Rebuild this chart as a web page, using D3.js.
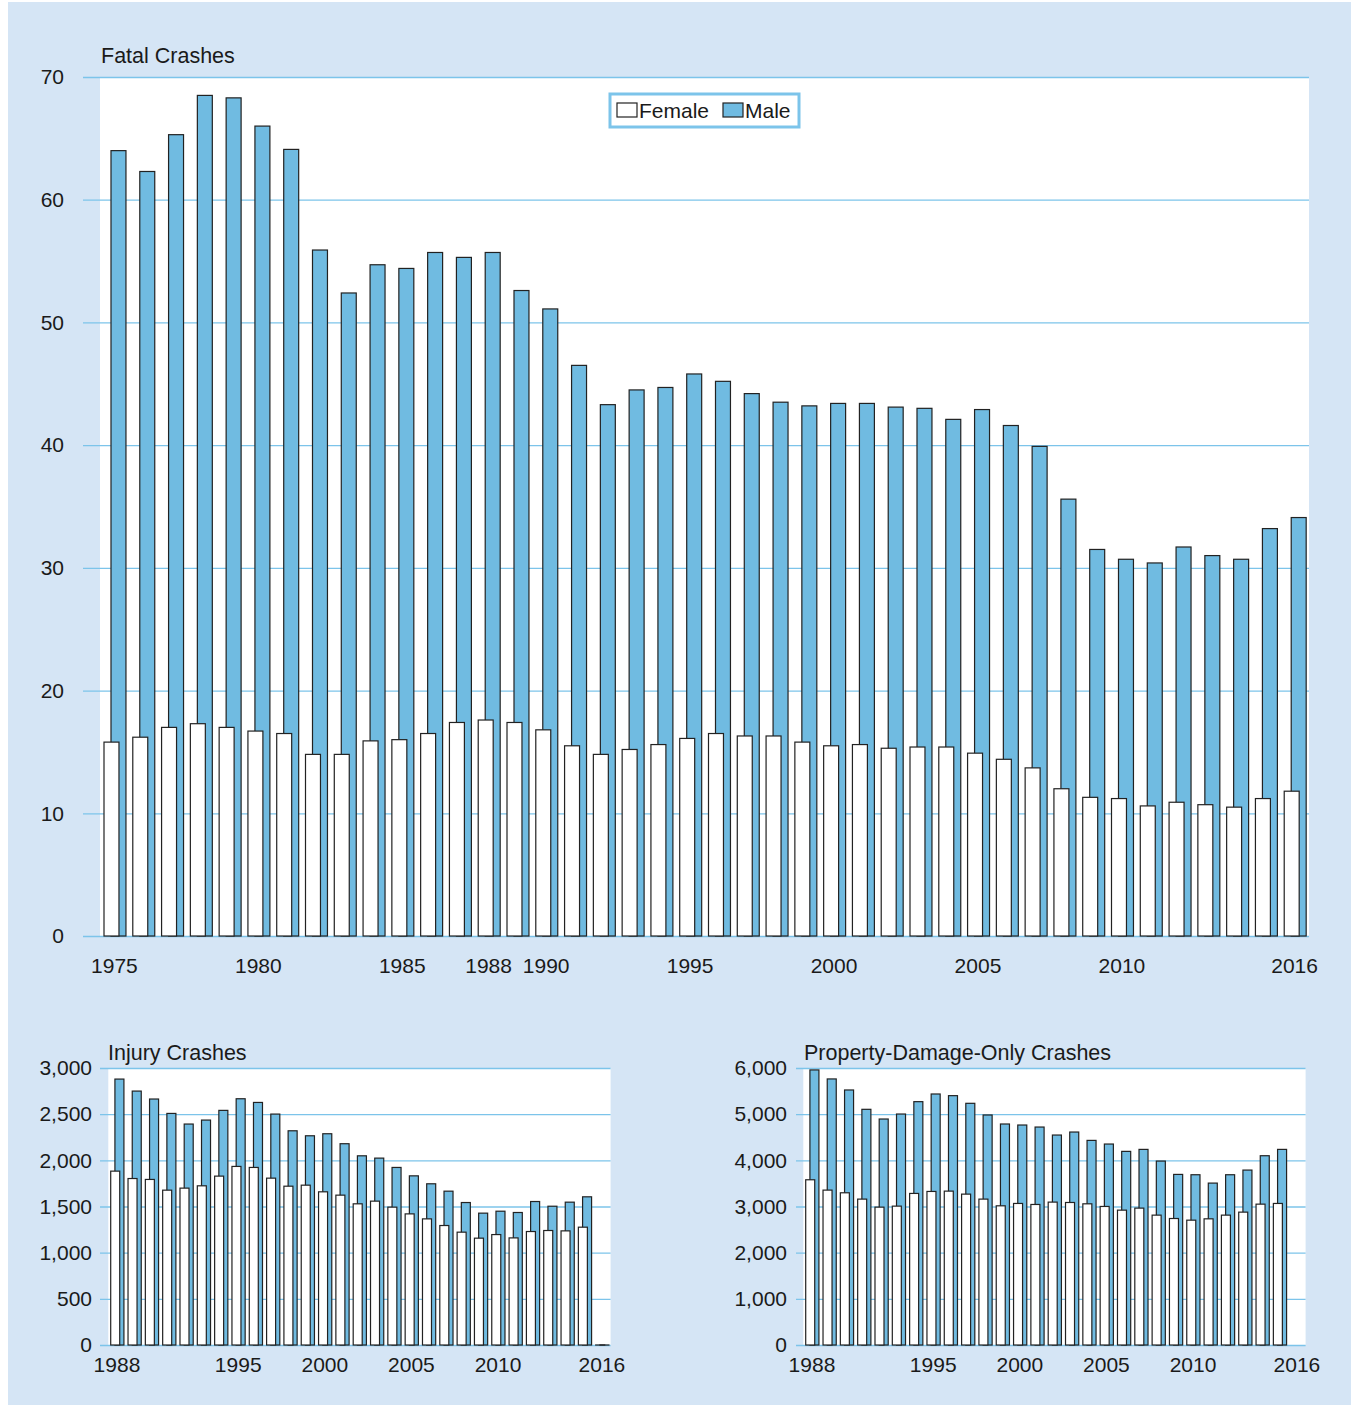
<!DOCTYPE html>
<html>
<head>
<meta charset="utf-8">
<script src="https://cdn.jsdelivr.net/npm/d3@7"></script>
<style>
  body { margin: 0; background: #fff; }
  text { font-family: "Liberation Sans", Arial, sans-serif; fill: #1a1a1a; }
</style>
</head>
<body>
<div id="container"></div>
<script>
// fatal crashes, 1975-2016
let fatalYears = d3.range(1975, 2017)
let fatalFemale = [15.8, 16.2, 17.0, 17.3, 17.0, 16.7, 16.5, 14.8, 14.8, 15.9,
  16.0, 16.5, 17.4, 17.6, 17.4, 16.8, 15.5, 14.8, 15.2, 15.6,
  16.1, 16.5, 16.3, 16.3, 15.8, 15.5, 15.6, 15.3, 15.4, 15.4,
  14.9, 14.4, 13.7, 12.0, 11.3, 11.2, 10.6, 10.9, 10.7, 10.5,
  11.2, 11.8]
let fatalMale = [64.0, 62.3, 65.3, 68.5, 68.3, 66.0, 64.1, 55.9, 52.4, 54.7,
  54.4, 55.7, 55.3, 55.7, 52.6, 51.1, 46.5, 43.3, 44.5, 44.7,
  45.8, 45.2, 44.2, 43.5, 43.2, 43.4, 43.4, 43.1, 43.0, 42.1,
  42.9, 41.6, 39.9, 35.6, 31.5, 30.7, 30.4, 31.7, 31.0, 30.7,
  33.2, 34.1]
let fatalYearLabels = [1975, 1980, 1985, 1988, 1990, 1995, 2000, 2005, 2010, 2016]
let fatalTicks = [0, 10, 20, 30, 40, 50, 60, 70]

// injury and property-damage-only crashes, 1988-2016
let smallYears = d3.range(1988, 2017)
let injuryFemale = [1883, 1803, 1793, 1677, 1699, 1724, 1829, 1934, 1923, 1807,
  1720, 1731, 1659, 1623, 1529, 1558, 1493, 1420, 1366, 1294,
  1222, 1157, 1196, 1160, 1229, 1240, 1236, 1276, 0]
let injuryMale = [2880, 2750, 2664, 2508, 2393, 2436, 2541, 2667, 2627, 2501,
  2320, 2266, 2288, 2180, 2049, 2024, 1923, 1832, 1746, 1666,
  1543, 1428, 1449, 1435, 1554, 1503, 1547, 1605, 0]
let pdoFemale = [3579, 3355, 3297, 3160, 2986, 3008, 3283, 3326, 3333, 3268,
  3160, 3015, 3066, 3044, 3095, 3087, 3058, 3001, 2921, 2965,
  2813, 2740, 2704, 2733, 2813, 2878, 3051, 3066, null]
let pdoMale = [5958, 5763, 5524, 5105, 4895, 5003, 5271, 5437, 5401, 5235,
  4982, 4787, 4765, 4721, 4548, 4613, 4432, 4353, 4194, 4237,
  3984, 3695, 3688, 3507, 3688, 3789, 4100, 4237, null]
let smallYearLabels = [1988, 1995, 2000, 2005, 2010, 2016]
let injuryTicks = [0, 500, 1000, 1500, 2000, 2500, 3000]
let pdoTicks = [0, 1000, 2000, 3000, 4000, 5000, 6000]

let width = 1351,
  height = 1405,
  blue = '#70bbe1',
  grid = '#7cc4ea',
  fontSize = 21

let svg = d3.select('#container')
  .append('svg')
  .attr('width', width)
  .attr('height', height)

svg.append('rect')
  .attr('x', 8).attr('y', 2)
  .attr('width', width - 8).attr('height', height - 2)
  .attr('fill', '#d5e5f5')

function drawPanel(p) {
  let g = svg.append('g')

  let scale_x = d3.scaleBand()
    .domain(p.years)
    .range([p.left, p.right])

  let scale_y = d3.scaleLinear()
    .domain([0, d3.max(p.ticks)])
    .range([p.bottom, p.top])

  g.append('rect')
    .attr('x', p.left).attr('y', p.top)
    .attr('width', p.right - p.left).attr('height', p.bottom - p.top)
    .attr('fill', '#fff')

  // gridlines + y labels
  let y_axis = d3.axisLeft(scale_y)
    .tickValues(p.ticks)
    .tickFormat(p.format)
    .tickSizeInner(-(p.right - p.gridStart))
    .tickSizeOuter(0)
    .tickPadding(p.gridStart - p.labelRight)

  let ya = g.append('g')
    .attr('transform', 'translate(' + p.gridStart + ',0)')
    .call(y_axis)
  ya.select('.domain').remove()
  ya.selectAll('line').attr('stroke', grid).attr('stroke-width', 1.3)
  ya.selectAll('text')
    .attr('font-size', fontSize)
    .attr('font-family', null)
    .attr('fill', null)

  let bw = scale_x.bandwidth()
  let barW = bw * 0.52

  let rows = p.years.map(function (y, i) {
    return { year: y, f: p.female[i], m: p.male[i] }
  }).filter(function (d) { return d.m != null })

  // zero values still get a flat outline, as in the original
  function barH(v) { return Math.max(scale_y(0) - scale_y(v), 0.01) }

  let pairs = g.selectAll('g.pair')
    .data(rows).enter().append('g')
    .attr('class', 'pair')

  pairs.append('rect')
    .attr('x', function (d) { return scale_x(d.year) + bw * 0.382 })
    .attr('y', function (d) { return scale_y(d.m) })
    .attr('width', barW)
    .attr('height', function (d) { return barH(d.m) })
    .attr('fill', blue)
    .attr('stroke', '#222')
    .attr('stroke-width', 1.2)

  pairs.append('rect')
    .attr('x', function (d) { return scale_x(d.year) + bw * 0.139 })
    .attr('y', function (d) { return scale_y(d.f) })
    .attr('width', barW)
    .attr('height', function (d) { return barH(d.f) })
    .attr('fill', '#fff')
    .attr('stroke', '#222')
    .attr('stroke-width', 1.2)

  // year labels
  let x_axis = d3.axisBottom(scale_x)
    .tickValues(p.yearLabels)
    .tickSize(0)
    .tickPadding(p.xPad)

  let xa = g.append('g')
    .attr('transform', 'translate(0,' + p.bottom + ')')
    .call(x_axis)
  xa.select('.domain').remove()
  xa.selectAll('text')
    .attr('font-size', fontSize)
    .attr('font-family', null)
    .attr('fill', null)

  g.append('text')
    .attr('x', p.titleX)
    .attr('y', p.top - p.titleDy)
    .attr('font-size', 21.5)
    .text(p.title)
}

drawPanel({
  years: fatalYears, female: fatalFemale, male: fatalMale,
  yearLabels: fatalYearLabels, ticks: fatalTicks, format: d3.format('d'),
  left: 100, right: 1309, top: 77, bottom: 936,
  gridStart: 83, labelRight: 64, xPad: 22,
  title: 'Fatal Crashes', titleX: 101, titleDy: 14
})

drawPanel({
  years: smallYears, female: injuryFemale, male: injuryMale,
  yearLabels: smallYearLabels, ticks: injuryTicks, format: d3.format(','),
  left: 108.3, right: 610.6, top: 1068, bottom: 1345,
  gridStart: 100, labelRight: 92, xPad: 12,
  title: 'Injury Crashes', titleX: 108, titleDy: 8
})

drawPanel({
  years: smallYears, female: pdoFemale, male: pdoMale,
  yearLabels: smallYearLabels, ticks: pdoTicks, format: d3.format(','),
  left: 803.3, right: 1305.6, top: 1068, bottom: 1345,
  gridStart: 796, labelRight: 787, xPad: 12,
  title: 'Property-Damage-Only Crashes', titleX: 804, titleDy: 8
})

// legend
let legend = svg.append('g').attr('transform', 'translate(610,94)')
legend.append('rect')
  .attr('width', 189).attr('height', 33)
  .attr('fill', '#fff')
  .attr('stroke', grid)
  .attr('stroke-width', 3)
let items = [{ name: 'Female', fill: '#fff', x: 7 }, { name: 'Male', fill: blue, x: 113 }]
items.forEach(function (d) {
  legend.append('rect')
    .attr('x', d.x).attr('y', 9)
    .attr('width', 20).attr('height', 14)
    .attr('fill', d.fill)
    .attr('stroke', '#222')
    .attr('stroke-width', 1.2)
  legend.append('text')
    .attr('x', d.x + 22).attr('y', 24)
    .attr('font-size', fontSize)
    .text(d.name)
})
</script>
</body>
</html>
